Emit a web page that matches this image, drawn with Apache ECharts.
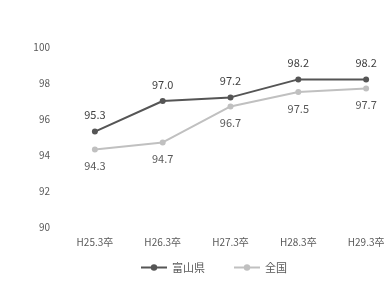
<!DOCTYPE html>
<html>
<head>
<meta charset="utf-8">
<script src="https://cdn.jsdelivr.net/npm/echarts@6/dist/echarts.min.js"></script>
<style>
html,body{margin:0;padding:0;background:#fff;}
#main{width:391px;height:284px;}
</style>
</head>
<body>
<div id="main"></div>
<script>
var categories = ['H25.3卒', 'H26.3卒', 'H27.3卒', 'H28.3卒', 'H29.3卒'];
var toyama = [95.3, 97.0, 97.2, 98.2, 98.2]; // 富山県
var zenkoku = [94.3, 94.7, 96.7, 97.5, 97.7]; // 全国

var font = '"Noto Sans CJK JP", "Noto Sans", sans-serif';
var chart = echarts.init(document.getElementById('main'));

chart.setOption({
	backgroundColor: '#fff',
	animation: false,
	textStyle: { fontFamily: font },
	grid: { left: 61, top: 47, width: 339, height: 180, outerBoundsMode: 'none', containLabel: false },
	legend: {
		bottom: 6,
		left: 135,
		itemWidth: 26,
		itemHeight: 8,
		itemGap: 28,
		textStyle: { color: '#595959', fontSize: 11, fontFamily: font },
		data: ['富山県', '全国']
	},
	xAxis: {
		type: 'category',
		data: categories,
		axisLine: { show: false },
		axisTick: { show: false },
		axisLabel: { color: '#595959', fontSize: 10, margin: 10 }
	},
	yAxis: {
		type: 'value',
		min: 90,
		max: 100,
		interval: 2,
		splitLine: { show: false },
		axisLabel: { color: '#595959', fontSize: 10, margin: 11 }
	},
	series: [{
			name: '富山県',
			type: 'line',
			data: toyama,
			symbol: 'circle',
			symbolSize: 6,
			color: '#555555',
			lineStyle: { width: 2, color: '#555555' },
			label: {
				show: true,
				position: 'top',
				distance: 8,
				color: '#404040',
				fontSize: 11,
				formatter: function(p) { return p.value.toFixed(1); }
			}
		},
		{
			name: '全国',
			type: 'line',
			data: zenkoku,
			symbol: 'circle',
			symbolSize: 6,
			color: '#c0c0c0',
			lineStyle: { width: 2, color: '#c0c0c0' },
			label: {
				show: true,
				position: 'bottom',
				distance: 8,
				color: '#595959',
				fontSize: 11,
				formatter: function(p) { return p.value.toFixed(1); }
			}
		}
	]
});
</script>
</body>
</html>
